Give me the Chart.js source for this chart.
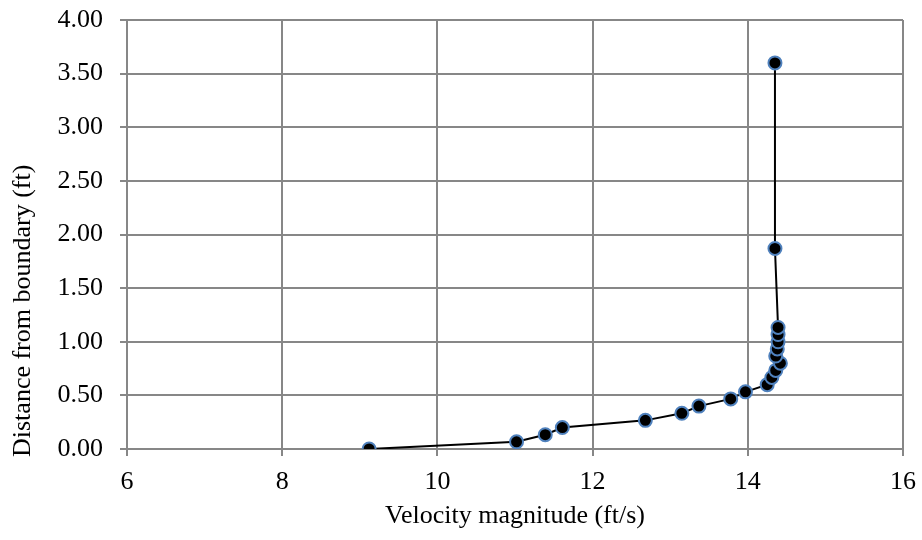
<!DOCTYPE html>
<html>
<head>
<meta charset="utf-8">
<script src="https://cdn.jsdelivr.net/npm/chart.js@4/dist/chart.umd.min.js"></script>
<style>
  html, body { margin: 0; padding: 0; background: #fff; }
  #wrap { width: 922px; height: 540px; }
</style>
</head>
<body>
<div id="wrap"><canvas id="c" width="922" height="540"></canvas></div>
<script>
// Velocity profile measured away from the boundary
const velocity = [9.12, 11.02, 11.39, 11.61, 12.68, 13.15, 13.37, 13.78, 13.97, 14.25,
                  14.31, 14.36, 14.42, 14.36, 14.38, 14.39, 14.39, 14.39, 14.35, 14.35];
const distance = [0.000, 0.067, 0.133, 0.200, 0.267, 0.333, 0.400, 0.467, 0.533, 0.600,
                  0.667, 0.733, 0.800, 0.867, 0.933, 1.000, 1.067, 1.133, 1.870, 3.600];

const xTicks = [6, 8, 10, 12, 14, 16];
const yTicks = [0, 0.5, 1, 1.5, 2, 2.5, 3, 3.5, 4];

const xTitle = 'Velocity magnitude (ft/s)';
const yTitle = 'Distance from boundary (ft)';

const points = velocity.map((v, i) => ({ x: v, y: distance[i] }));

const serif = "'Liberation Serif', 'Times New Roman', serif";
const gridColor = '#878787';

// Vertical axis title, starting just below the plot's bottom edge and reading upwards
const yTitlePlugin = {
  id: 'yTitle',
  afterDraw(chart) {
    const { ctx, chartArea } = chart;
    ctx.save();
    ctx.translate(23, chartArea.bottom + 8);
    ctx.rotate(-Math.PI / 2);
    ctx.font = '26px ' + serif;
    ctx.fillStyle = '#000';
    ctx.textAlign = 'left';
    ctx.textBaseline = 'middle';
    ctx.fillText(yTitle, 0, 0);
    ctx.restore();
  }
};

new Chart(document.getElementById('c'), {
  type: 'scatter',
  data: {
    datasets: [{
      data: points,
      showLine: true,
      borderColor: '#000000',
      borderWidth: 2,
      pointBackgroundColor: '#000000',
      pointBorderColor: '#4f81bd',
      pointBorderWidth: 2,
      pointRadius: 6.5,
      tension: 0
    }]
  },
  options: {
    responsive: false,
    animation: false,
    layout: { padding: { top: 20, right: 19, bottom: 0, left: 0 } },
    plugins: { legend: { display: false }, tooltip: { enabled: false } },
    scales: {
      x: {
        type: 'linear',
        min: xTicks[0],
        max: xTicks[xTicks.length - 1],
        afterBuildTicks: s => { s.ticks = xTicks.map(v => ({ value: v })); },
        afterFit: s => { s.height = 91; s.paddingLeft = 0; s.paddingRight = 0; },
        ticks: { color: '#000', font: { family: serif, size: 26 }, padding: 11, maxRotation: 0 },
        grid: { color: gridColor, lineWidth: 2, tickLength: 7 },
        border: { color: gridColor, width: 2 },
        title: {
          display: true,
          text: xTitle,
          color: '#000',
          font: { family: serif, size: 26 },
          padding: { top: 0, bottom: 8 }
        }
      },
      y: {
        type: 'linear',
        min: yTicks[0],
        max: yTicks[yTicks.length - 1],
        afterBuildTicks: s => { s.ticks = yTicks.map(v => ({ value: v })); },
        afterFit: s => { s.width = 127; s.paddingTop = 0; s.paddingBottom = 0; },
        ticks: {
          color: '#000',
          font: { family: serif, size: 26 },
          padding: 17,
          callback: v => Number(v).toFixed(2)
        },
        grid: { color: gridColor, lineWidth: 2, tickLength: 7 },
        border: { color: gridColor, width: 2 }
      }
    }
  },
  plugins: [yTitlePlugin]
});
</script>
</body>
</html>
